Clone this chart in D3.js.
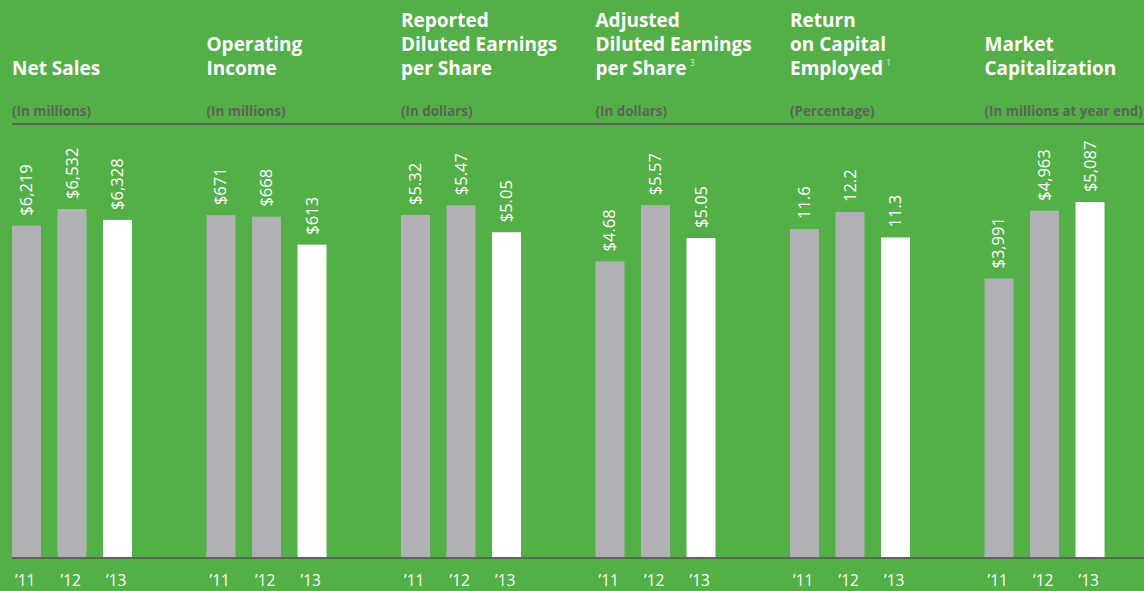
<!DOCTYPE html>
<html><head><meta charset="utf-8">
<script src="https://cdn.jsdelivr.net/npm/d3@7"></script>
<style>html,body{margin:0;padding:0;background:#53b046;}svg{display:block;}</style>
</head><body>
<svg id="c" width="1144" height="591"></svg>
<script>
const years = ["\u201911", "\u201912", "\u201913"];
const titles = [
  ["Net Sales"],
  ["Operating", "Income"],
  ["Reported", "Diluted Earnings", "per Share"],
  ["Adjusted", "Diluted Earnings", "per Share"],
  ["Return", "on Capital", "Employed"],
  ["Market", "Capitalization"]
];
const footnotes = ["", "", "", "3", "1", ""];
const subtitles = ["(In millions)", "(In millions)", "(In dollars)", "(In dollars)", "(Percentage)", "(In millions at year end)"];
const netSales = [6219, 6532, 6328];
const operatingIncome = [671, 668, 613];
const reportedEPS = [5.32, 5.47, 5.05];
const adjustedEPS = [4.68, 5.57, 5.05];
const roce = [11.6, 12.2, 11.3];
const marketCap = [3991, 4963, 5087];
const series = [netSales, operatingIncome, reportedEPS, adjustedEPS, roce, marketCap];
const formats = ["$,.0f", "$,.0f", "$.2f", "$.2f", ".1f", "$,.0f"];
const domainMax = [8015, 838, 6.64, 6.76, 15.1, 6120];

const W = 1144, H = 591;
const svg = d3.select("#c");
svg.append("rect").attr("width", W).attr("height", H).attr("fill", "#53b046");

const panelX = d3.scaleBand().domain(d3.range(6)).range([12, 12 + 6 * 194.5]).paddingInner(0).paddingOuter(0);
const baseY = 557, topY = 130;
const lineCol = "#5d635b";

svg.append("line").attr("x1", 12).attr("x2", W).attr("y1", 124).attr("y2", 124)
  .attr("stroke", lineCol).attr("stroke-width", 2);

const fontT = "'Open Sans', sans-serif";

series.forEach((vals, i) => {
  const g = svg.append("g").attr("transform", `translate(${panelX(i)},0)`);
  const x = d3.scaleBand().domain(years).range([0, 120]).paddingInner(0.363).paddingOuter(0);
  const y = d3.scaleLinear().domain([0, domainMax[i]]).range([baseY, topY]);
  const fmt = d3.format(formats[i]);

  const lines = titles[i];
  const t = g.append("text").attr("font-family", fontT).attr("font-weight", 700)
    .attr("font-size", 19).attr("fill", "#ffffff");
  lines.forEach((ln, k) => {
    const yy = 75 - (lines.length - 1 - k) * 24;
    t.append("tspan").attr("x", 0).attr("y", yy).text(ln);
  });
  if (footnotes[i]) {
    t.append("tspan").attr("dx", 3).attr("dy", -9).attr("font-size", 9)
      .attr("font-weight", 400).attr("fill", "#d8e8d2").text(footnotes[i]);
  }
  g.append("text").attr("x", 0).attr("y", 116).attr("font-family", fontT)
    .attr("font-weight", 700).attr("font-size", 13.4).attr("fill", "#5d635b").text(subtitles[i]);

  g.selectAll("rect.bar").data(vals).join("rect")
    .attr("x", (d, j) => x(years[j]))
    .attr("width", x.bandwidth())
    .attr("y", d => y(d))
    .attr("height", d => baseY - y(d))
    .attr("fill", (d, j) => j === 2 ? "#ffffff" : "#b1b1b5");

  g.selectAll("text.val").data(vals).join("text")
    .attr("transform", (d, j) => `translate(${x(years[j]) + x.bandwidth() / 2 + 5.5},${y(d) - 10}) rotate(-90)`)
    .attr("font-family", fontT).attr("font-size", 16.5).attr("fill", "#ffffff")
    .text(d => fmt(d));

  g.selectAll("text.yr").data(years).join("text")
    .attr("x", d => x(d) + 3).attr("y", 586)
    .attr("font-family", fontT).attr("font-size", 15.5).attr("fill", "#ffffff")
    .text(d => d);
});

svg.append("line").attr("x1", 12).attr("x2", W).attr("y1", baseY + 1).attr("y2", baseY + 1)
  .attr("stroke", lineCol).attr("stroke-width", 2);
</script>
</body></html>
